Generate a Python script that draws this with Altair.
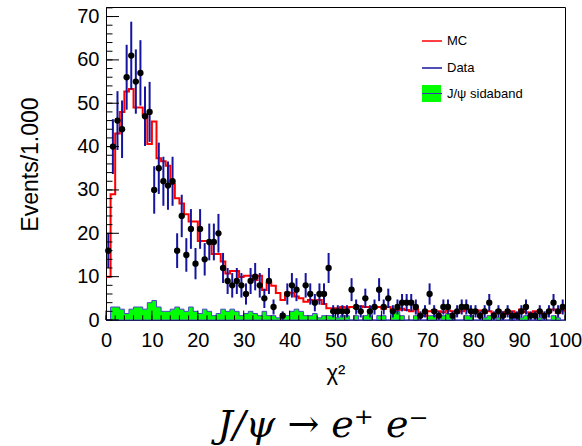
import altair as alt
import pandas as pd
import numpy as np

# ---- data (bin width 1, 0..100) ----
data_counts = [16, 40, 46, 44, 56, 61, 55, 57, 47, 48,
               30, 35, 32, 31, 32, 16, 24, 15, 21, 13,
               21, 14, 18, 18, 20, 12, 9, 8, 9, 8,
               6, 9, 10, 8, 5, 9, 3, 0, 1, 6,
               8, 7, 0, 8, 6, 4, 6, 6, 12, 2,
               2, 2, 2, 7, 3, 2, 5, 2, 3, 7,
               3, 5, 2, 3, 4, 4, 4, 3, 1, 2,
               6, 2, 1, 3, 3, 1, 2, 3, 3, 2,
               2, 1, 2, 4, 1, 2, 1, 2, 1, 1,
               2, 3, 1, 1, 2, 1, 2, 4, 2, 3]

mc_values = [10, 29, 43, 48, 52.7, 53.3, 49, 49, 47.3, 40.6,
             45.8, 37.3, 36.6, 35.6, 31.4, 28.1, 26.9, 24.4, 22.7, 22.7,
             18.2, 18.2, 18.2, 15.2, 15.2, 13.5, 10.7, 11.3, 11.3, 9.9,
             10.2, 10.2, 9.2, 10.2, 6.9, 8.6, 7.9, 6.2, 4.6, 6.3,
             6.3, 5.4, 5.0, 4.2, 4.6, 4.2, 4.6, 3.7, 2.7, 2.7,
             2.7, 3.0, 2.8, 3.0, 2.8, 3.2, 3.0, 3.0, 2.8, 3.0,
             2.6, 3.0, 2.4, 2.3, 2.6, 2.3, 2.0, 2.4, 1.2, 1.0,
             2.0, 2.3, 2.0, 1.8, 2.2, 2.0, 1.6, 2.0, 2.4, 2.0,
             1.8, 2.2, 1.6, 2.0, 1.6, 2.2, 1.8, 1.4, 2.0, 1.6,
             2.4, 1.8, 1.6, 2.0, 1.8, 1.4, 1.8, 2.4, 1.6, 2.2]

sideband = [0, 3, 3, 2.5, 1.5, 2.5, 3, 3, 2.5, 4,
            4.5, 3, 2, 2, 2.5, 3, 2.5, 2, 3, 2,
            1.5, 2.5, 2, 1, 1.5, 2.5, 2, 2.5, 2, 1,
            1.5, 2, 1.5, 1, 2, 1, 1, 0.5, 1.5, 1,
            2, 2.5, 2, 1, 1, 1.5, 0.5, 1, 1, 1,
            0.5, 1, 1, 0, 1, 0, 1, 1.5, 0, 1,
            1, 0, 2, 2, 1, 0, 0, 1, 0, 0,
            1, 1, 0, 1, 1.5, 0.5, 0, 0, 1, 1,
            0, 0, 0.5, 1, 0, 0.5, 0, 0, 1, 0,
            0.5, 1, 0, 0, 0.5, 0, 0, 1, 0.5, 0]

x_ticks_major = list(range(0, 101, 10))
x_ticks_minor = list(range(0, 101, 2))
y_ticks_major = list(range(0, 71, 10))
y_ticks_minor = list(range(0, 73, 2))

legend_labels = ["MC", "Data", "J/ψ sidaband"]

# ---- frames ----
nb = len(data_counts)
edges = np.arange(nb + 1, dtype=float)
hist = pd.DataFrame({
    "lo": edges[:-1],
    "hi": edges[1:],
    "c": edges[:-1] + 0.5,
    "n": data_counts,
    "mc": mc_values,
    "sb": sideband,
})
hist["err_lo"] = hist["n"] - np.sqrt(hist["n"])
hist["err_hi"] = hist["n"] + np.sqrt(hist["n"])
pts = hist[hist["n"] > 0]

step = pd.DataFrame({
    "x": list(edges),
    "mc": mc_values + [mc_values[-1]],
    "sb": sideband + [sideband[-1]],
})

W, H = 459, 313
XMAX, YMAX = 100, 72.2
FONT = "Liberation Sans"

xs = alt.Scale(domain=[0, XMAX], nice=False, zero=False)
ys = alt.Scale(domain=[0, YMAX], nice=False, zero=False)

base_axis_x = alt.Axis(values=x_ticks_major, ticks=False, domain=False, grid=False,
                       labelFontSize=20, labelFont=FONT, labelColor="black",
                       labelPadding=10, title="χ²", titleFont=FONT, titleFontSize=22,
                       titleFontWeight="normal", titleColor="black", titlePadding=12,
                       labelFlush=False)
base_axis_y = alt.Axis(values=y_ticks_major, ticks=False, domain=False, grid=False,
                       labelFontSize=20, labelFont=FONT, labelColor="black",
                       labelPadding=7, title="Events/1.000", titleFont=FONT,
                       titleFontSize=23, titleFontWeight="normal", titleColor="black",
                       titleX=-64, titleY=157, labelFlush=False)

sb_area = alt.Chart(step).mark_area(interpolate="step-after", color="#00ff00",
                                    stroke="#4848c8", strokeWidth=1).encode(
    x=alt.X("x:Q", scale=xs, axis=base_axis_x),
    y=alt.Y("sb:Q", scale=ys, axis=base_axis_y),
)

mc_line = alt.Chart(step).mark_line(interpolate="step-after", color="#ff0000",
                                    strokeWidth=2).encode(
    x=alt.X("x:Q", scale=xs),
    y=alt.Y("mc:Q", scale=ys),
)

err = alt.Chart(pts).mark_rule(color="#14149e", strokeWidth=2).encode(
    x=alt.X("c:Q", scale=xs),
    y=alt.Y("err_lo:Q", scale=ys),
    y2="err_hi:Q",
)

dots = alt.Chart(pts).mark_circle(color="black", size=40, opacity=1).encode(
    x=alt.X("c:Q", scale=xs),
    y=alt.Y("n:Q", scale=ys),
)

# inward ticks (ROOT style)
ytmaj = alt.Chart(pd.DataFrame({"v": y_ticks_major})).mark_rule(color="black").encode(
    y=alt.Y("v:Q", scale=ys), x=alt.value(0), x2=alt.value(13))
ytmin = alt.Chart(pd.DataFrame({"v": y_ticks_minor})).mark_rule(color="black").encode(
    y=alt.Y("v:Q", scale=ys), x=alt.value(0), x2=alt.value(6.5))
xtmaj = alt.Chart(pd.DataFrame({"v": x_ticks_major})).mark_rule(color="black").encode(
    x=alt.X("v:Q", scale=xs), y=alt.value(H), y2=alt.value(H - 9.4))
xtmin = alt.Chart(pd.DataFrame({"v": x_ticks_minor})).mark_rule(color="black").encode(
    x=alt.X("v:Q", scale=xs), y=alt.value(H), y2=alt.value(H - 4.7))

# legend
leg_mc = alt.Chart(pd.DataFrame({"t": [legend_labels[0]]})).mark_rule(
    color="#ff0000", strokeWidth=1.5).encode(
    x=alt.value(316), x2=alt.value(336), y=alt.value(34))
leg_data = alt.Chart(pd.DataFrame({"t": [legend_labels[1]]})).mark_rule(
    color="#14149e", strokeWidth=1.5).encode(
    x=alt.value(316), x2=alt.value(336), y=alt.value(61))
leg_box = alt.Chart(pd.DataFrame({"t": [legend_labels[2]]})).mark_rect(
    color="#00ff00").encode(
    x=alt.value(316), x2=alt.value(335), y=alt.value(78), y2=alt.value(95))
leg_boxline = alt.Chart(pd.DataFrame({"t": [legend_labels[2]]})).mark_rule(
    color="#3434b4", strokeWidth=1).encode(
    x=alt.value(316), x2=alt.value(336), y=alt.value(86.5))
leg_text = alt.Chart(pd.DataFrame({"t": legend_labels, "yy": [34, 61, 86.5]})).mark_text(
    align="left", baseline="middle", font=FONT, fontSize=13, color="black").encode(
    x=alt.value(341), y=alt.Y("yy:Q", scale=None), text="t:N")

title = alt.Chart(pd.DataFrame({"t": ["J/ψ → e⁺ e⁻"]})).mark_text(
    align="center", baseline="alphabetic", font="DejaVu Serif", fontStyle="italic",
    fontSize=38, color="black").encode(
    x=alt.value(217), y=alt.value(430), text="t:N")

chart = alt.layer(
    sb_area, mc_line, err, dots, ytmaj, ytmin, xtmaj, xtmin,
    leg_mc, leg_data, leg_box, leg_boxline, leg_text, title
).properties(
    width=W, height=H,
    autosize=alt.AutoSizeParams(type="none"),
    padding={"left": 106, "top": 7, "right": 17, "bottom": 126},
    background="white",
).configure_view(stroke="black", strokeWidth=1)

chart.save("out.html", embed_options={"renderer": "svg", "actions": False})
